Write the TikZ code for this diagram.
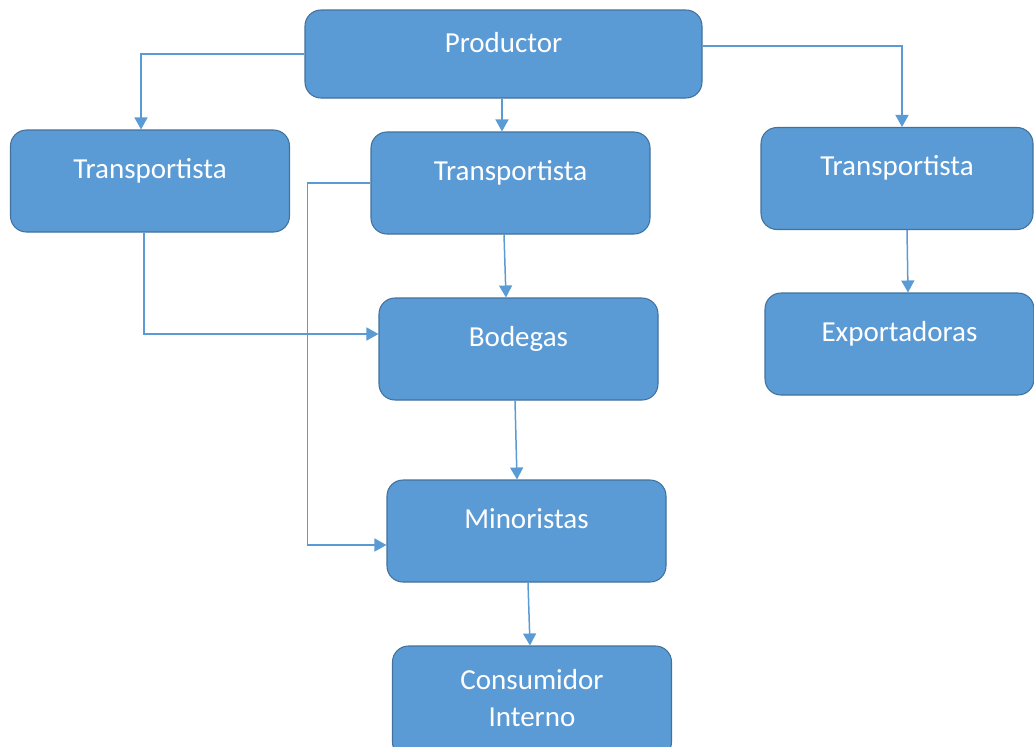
\documentclass[tikz,border=0pt]{standalone}
\usepackage{fontspec}
\setmainfont{Carlito}
\usetikzlibrary{positioning, arrows.meta}
\definecolor{boxfill}{RGB}{91,155,213}
\definecolor{boxline}{RGB}{65,113,156}
\tikzset{
    actor/.style={rectangle, rounded corners=0.32cm, fill=boxfill, draw=boxline,
      line width=0.6pt, text=white, inner sep=0pt, minimum width=5.58cm,
      minimum height=2.04cm, text height=0.4cm, text depth=0.52cm,
      font=\fontsize{16.5}{21}\selectfont},
    flow/.style={draw=boxfill, line width=0.85pt, -{Triangle[width=0.26cm, length=0.24cm]}}
}

\begin{document}
\begin{tikzpicture}[node distance = 3cm, on grid]
      \useasboundingbox (-10.07,1.08) rectangle (10.61,-13.84);
      \node[actor, minimum width=7.94cm, minimum height=1.76cm, text depth=0.48cm] (prod) {Productor};
      \node[actor] (trL) [below left = 2.54cm and 7.07cm of prod] {Transportista};
      \node[actor] (trM) [below right = 2.58cm and 0.14cm of prod] {Transportista};
      \node[actor, minimum width=5.44cm] (trR) [below right = 2.49cm and 7.87cm of prod] {Transportista};
      \node[actor] (bod) [below right = 3.32cm and 0.16cm of trM] {Bodegas};
      \node[actor, minimum width=5.38cm] (exp) [below right = 3.31cm and 0.05cm of trR] {Exportadoras};
      \node[actor] (min) [below right = 3.64cm and 0.16cm of bod] {Minoristas};
      \node[actor, align=center, minimum height=2.24cm, text height=0.96cm, text depth=0cm] (cons) [below right = 3.42cm and 0.11cm of min] {Consumidor\\Interno};

      % from the producer
      \draw[flow] (prod.west) -| ([xshift=-0.18cm]trL.north);
      \draw[flow] ([xshift=-0.03cm]prod.south) -- ([xshift=-0.17cm]trM.north);
      \draw[flow] ([yshift=0.16cm]prod.east) -| ([xshift=0.1cm]trR.north);

      % down the chain
      \draw[flow] ([xshift=-0.12cm]trL.south) |- ([yshift=0.3cm]bod.west);
      \draw[flow] (trM.west) -- ++(-1.26,0) |- ([yshift=-0.28cm]min.west);
      \draw[flow] ([xshift=-0.13cm]trM.south) -- ([xshift=-0.25cm]bod.north);
      \draw[flow] ([xshift=-0.07cm]bod.south) -- ([xshift=-0.19cm]min.north);
      \draw[flow] ([xshift=0.03cm]min.south) -- ([xshift=-0.04cm]cons.north);
      \draw[flow] ([xshift=0.2cm]trR.south) -- ([xshift=0.17cm]exp.north);
\end{tikzpicture}
\end{document}
